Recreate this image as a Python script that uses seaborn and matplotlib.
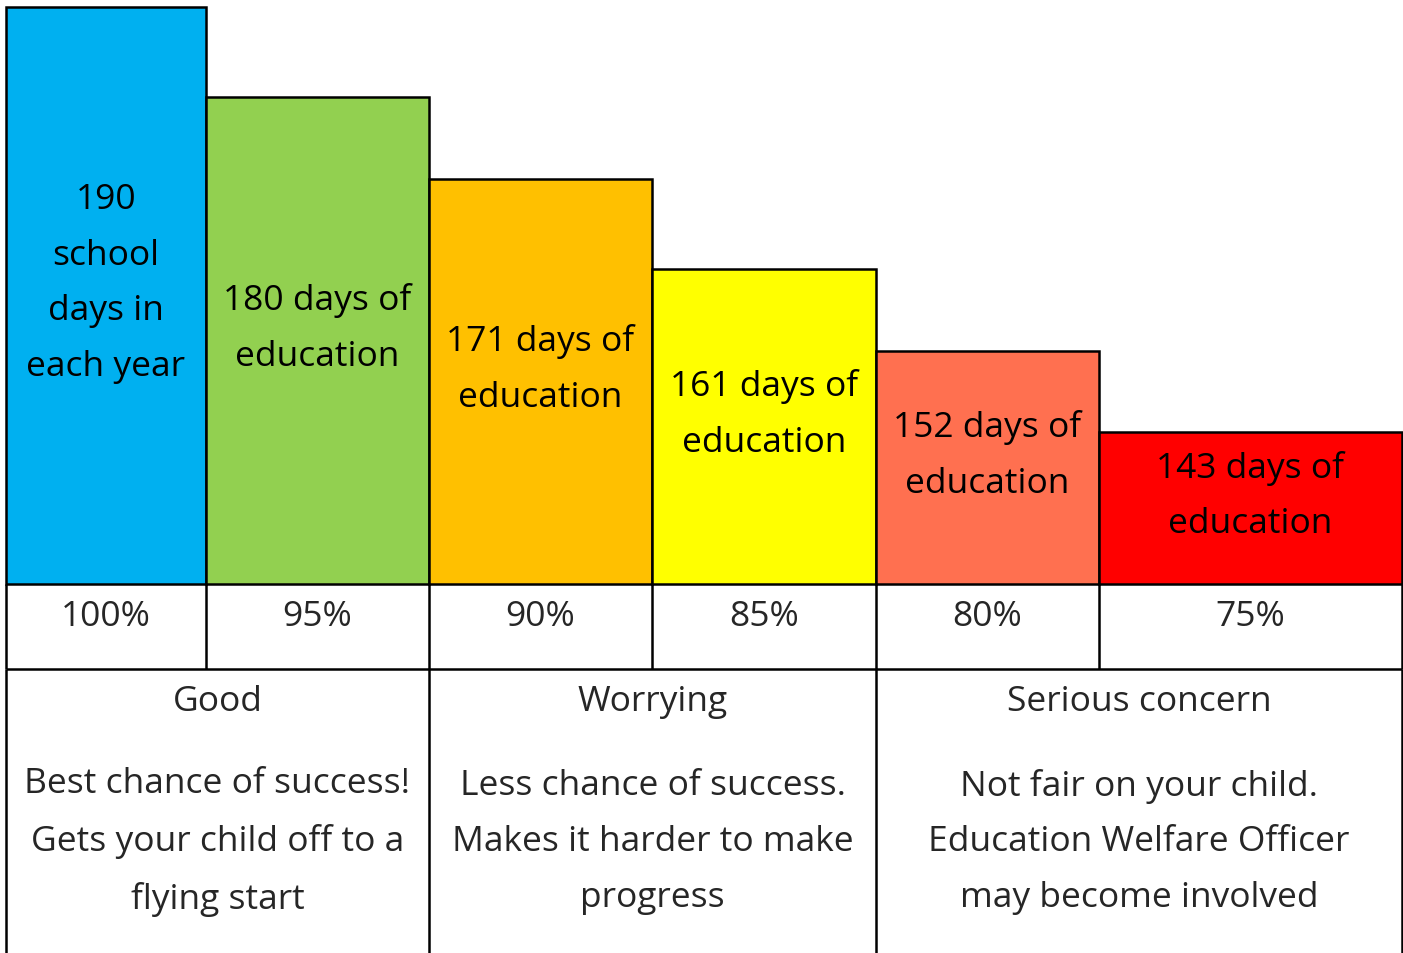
import matplotlib
matplotlib.use("Agg")
import matplotlib.pyplot as plt
import seaborn as sns

# data
days = [190, 180, 171, 161, 152, 143]
attendance = ["100%", "95%", "90%", "85%", "80%", "75%"]
bar_labels = [
    "190\nschool\ndays in\neach year",
    "180 days of\neducation",
    "171 days of\neducation",
    "161 days of\neducation",
    "152 days of\neducation",
    "143 days of\neducation",
]
bands = ["Good", "Worrying", "Serious concern"]
band_notes = [
    "Best chance of success!\nGets your child off to a\nflying start",
    "Less chance of success.\nMakes it harder to make\nprogress",
    "Not fair on your child.\nEducation Welfare Officer\nmay become involved",
]
colors = ["#00B0F0", "#92D050", "#FFC000", "#FFFF00", "#FF7050", "#FF0000"]

# layout (pixels)
W, H = 1403, 954
edges = [6, 206, 429, 652, 876, 1099, 1402]
band_edges = [6, 429, 876, 1402]
top_px, base_px, row_px = 8, 585, 670
y_floor = 126.2

sns.set_theme(style="white")
plt.rcParams["font.family"] = ["Open Sans", "DejaVu Sans"]
palette = sns.color_palette(colors)
fs = 25.5
ls = 1.84
lw = 1.8

fig = plt.figure(figsize=(W / 100, H / 100), dpi=100)

# bars, heights in days
ax = fig.add_axes([edges[0] / W, (H - base_px) / H,
                   (edges[-1] - edges[0]) / W, (base_px - top_px) / H])
lefts = edges[:-1]
widths = [b - a for a, b in zip(edges[:-1], edges[1:])]
ax.bar(lefts, [d - y_floor for d in days], width=widths, bottom=y_floor,
       align="edge", color=palette, edgecolor="black", linewidth=lw,
       clip_on=False)
ax.set_xlim(edges[0], edges[-1])
ax.set_ylim(y_floor, days[0])
ax.axis("off")
for x0, w, d, lab in zip(lefts, widths, days, bar_labels):
    ax.annotate(lab, (x0 + w / 2, (d + y_floor) / 2), xytext=(0, 13),
                textcoords="offset pixels", ha="center", va="center",
                fontsize=fs, linespacing=ls, color="black")

# table underneath, pixel coordinates
tb = fig.add_axes([0, 0, 1, 1], zorder=-1)
tb.set_xlim(0, W)
tb.set_ylim(H, 0)
tb.axis("off")
tb.hlines([row_px], edges[0], edges[-1], color="black", lw=lw)
tb.vlines(edges, base_px, row_px, color="black", lw=lw)
tb.vlines(band_edges, row_px, H, color="black", lw=lw)
for a, b, pct in zip(edges[:-1], edges[1:], attendance):
    tb.text((a + b) / 2, 617, pct, ha="center", va="center", fontsize=fs)
for a, b, head, note in zip(band_edges[:-1], band_edges[1:], bands, band_notes):
    tb.text((a + b) / 2, 702, head, ha="center", va="center", fontsize=fs)
    tb.text((a + b) / 2, 842, note, ha="center", va="center", fontsize=fs,
            linespacing=ls)

fig.savefig("out.png", dpi=100, facecolor="white")
